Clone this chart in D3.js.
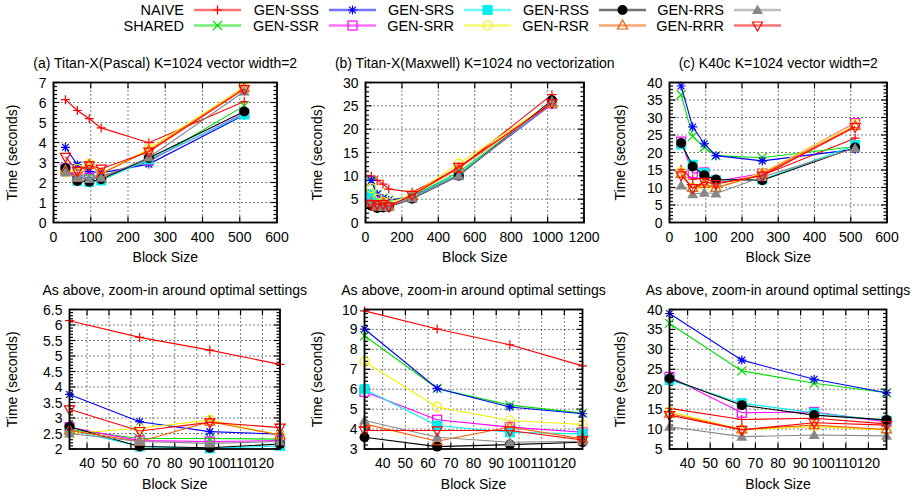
<!DOCTYPE html>
<html><head><meta charset="utf-8">
<script src="https://cdn.jsdelivr.net/npm/d3@7"></script>
<style>
body{margin:0;background:#fff}
text{font-family:"Liberation Sans",Arial,Helvetica,sans-serif;fill:#000}
</style>
</head><body>
<svg id="chart" width="919" height="496"></svg>
<script>
// ---------------- data ----------------
const seriesNames = ["NAIVE","SHARED","GEN-SSS","GEN-SSR","GEN-SRS","GEN-SRR","GEN-RSS","GEN-RSR","GEN-RRS","GEN-RRR"];
const blockSizes = [32, 64, 96, 128, 256, 512];
const blockSizesMaxwell = [32, 64, 96, 128, 256, 512, 1024];
const zoomBlockSizes = [32, 64, 96, 128];

// rows follow seriesNames order; columns follow blockSizes
const pascalTimes = [
  [6.14, 5.60, 5.19, 4.73, 3.99, 6.05],
  [2.63, 2.34, 2.34, 2.32, 3.04, 5.83],
  [3.76, 2.88, 2.56, 2.48, 2.92, 5.38],
  [2.70, 2.27, 2.24, 2.27, 3.10, 5.45],
  [2.62, 2.08, 2.02, 2.10, 3.15, 5.40],
  [2.50, 2.67, 2.93, 2.45, 3.68, 6.78],
  [2.72, 2.08, 2.04, 2.16, 3.22, 5.55],
  [2.60, 2.24, 2.88, 2.45, 3.60, 6.72],
  [2.50, 2.24, 2.18, 2.24, 3.25, 6.55],
  [3.28, 2.58, 2.86, 2.69, 3.54, 6.67]
];
// columns follow blockSizesMaxwell
const maxwellTimes = [
  [9.93, 9.02, 8.23, 7.17, 6.50, 11.6, 27.4],
  [8.68, 6.04, 5.20, 4.80, 5.60, 10.8, 25.6],
  [9.02, 6.04, 5.11, 4.77, 5.50, 10.3, 25.4],
  [5.87, 4.47, 4.10, 3.84, 5.40, 10.2, 25.5],
  [6.00, 4.18, 3.84, 3.76, 5.40, 10.4, 25.6],
  [7.38, 5.11, 4.43, 4.23, 5.90, 12.6, 25.8],
  [3.59, 3.12, 3.22, 3.34, 5.10, 10.0, 26.2],
  [4.26, 3.39, 4.10, 3.51, 5.80, 11.6, 25.5],
  [4.43, 3.59, 3.34, 3.39, 5.20, 10.0, 26.0],
  [3.93, 3.93, 3.93, 3.45, 5.90, 11.9, 25.6]
];
const k40cTimes = [
  [15.2, 12.4, 12.7, 11.3, 13.5, 24.1],
  [36.5, 24.6, 21.5, 19.1, 18.5, 21.7],
  [39.0, 27.3, 22.5, 19.1, 17.6, 20.9],
  [23.1, 14.1, 14.3, 11.8, 14.0, 28.4],
  [22.3, 16.5, 14.1, 12.1, 12.3, 22.1],
  [14.4, 9.8, 10.6, 9.8, 14.2, 28.2],
  [22.7, 16.0, 13.5, 12.3, 12.1, 21.4],
  [13.9, 9.9, 11.0, 9.9, 13.8, 27.6],
  [10.6, 8.1, 8.5, 8.3, 13.0, 21.2],
  [13.5, 9.8, 11.6, 11.0, 13.4, 27.3]
];

const titles = ["(a) Titan-X(Pascal) K=1024 vector width=2",
                "(b) Titan-X(Maxwell) K=1024 no vectorization",
                "(c) K40c K=1024 vector width=2",
                "As above, zoom-in around optimal settings"];
const xLabel = "Block Size";
const yLabel = "Time (seconds)";

// ---------------- styles ----------------
const seriesColors = ["#ff0000","#00e000","#0000ff","#ff00ff","#00eeee","#f2f200","#000000","#ff5a00","#888888","#ff0000"];
const seriesMarkers = ["plus","cross","star","sqOpen","sqFill","circOpen","circFill","triOpen","triFill","triDown"];

const panels = [
  {title: titles[0], xs: blockSizes, rows: pascalTimes, n: 6, xDom:[0,600], xStep:100, yDom:[0,7], yStep:1, yMinor:0.2, box:[53.5,82.5,277,222.5], ylx:12},
  {title: titles[1], xs: blockSizesMaxwell, rows: maxwellTimes, n: 7, xDom:[0,1200], xStep:200, yDom:[0,30], yStep:5, yMinor:1, box:[365.5,82.5,584,222.5], ylx:317},
  {title: titles[2], xs: blockSizes, rows: k40cTimes, n: 6, xDom:[0,600], xStep:100, yDom:[0,40], yStep:5, yMinor:1, box:[669.5,82.5,887,222.5], ylx:620},
  {title: titles[3], xs: zoomBlockSizes, rows: pascalTimes, n: 4, xDom:[32,128], xTickVals:[40,50,60,70,80,90,100,110,120], yDom:[2,6.5], yStep:0.5, yMinor:0.1, box:[69.5,309.5,280,449], ylx:12},
  {title: titles[3], xs: zoomBlockSizes, rows: maxwellTimes, n: 4, xDom:[32,128], xTickVals:[40,50,60,70,80,90,100,110,120], yDom:[3,10], yStep:1, yMinor:0.2, box:[364.5,309.5,582.5,449], ylx:317},
  {title: titles[3], xs: zoomBlockSizes, rows: k40cTimes, n: 4, xDom:[32,128], xTickVals:[40,50,60,70,80,90,100,110,120], yDom:[5,40], yStep:5, yMinor:1, box:[669.5,309.5,886.5,449], ylx:620}
];

const svg = d3.select("#chart");
const FS = 14;
const fmt = d3.format("~g");

function marker(g, type, color, cx, cy) {
  const s = 4.5;
  const sw = 1.2;
  if (type === "plus") {
    g.append("path").attr("d", `M${cx-s},${cy}H${cx+s}M${cx},${cy-s}V${cy+s}`).attr("stroke", color).attr("stroke-width", sw).attr("fill","none");
  } else if (type === "cross") {
    g.append("path").attr("d", `M${cx-s},${cy-s}L${cx+s},${cy+s}M${cx-s},${cy+s}L${cx+s},${cy-s}`).attr("stroke", color).attr("stroke-width", sw).attr("fill","none");
  } else if (type === "star") {
    g.append("path").attr("d", `M${cx-s},${cy}H${cx+s}M${cx},${cy-s}V${cy+s}M${cx-s*0.75},${cy-s*0.75}L${cx+s*0.75},${cy+s*0.75}M${cx-s*0.75},${cy+s*0.75}L${cx+s*0.75},${cy-s*0.75}`).attr("stroke", color).attr("stroke-width", sw).attr("fill","none");
  } else if (type === "sqOpen") {
    g.append("rect").attr("x", cx-s).attr("y", cy-s).attr("width", 2*s).attr("height", 2*s).attr("fill","none").attr("stroke", color).attr("stroke-width", sw);
  } else if (type === "sqFill") {
    g.append("rect").attr("x", cx-5).attr("y", cy-5).attr("width", 10).attr("height", 10).attr("fill", color);
  } else if (type === "circOpen") {
    g.append("circle").attr("cx", cx).attr("cy", cy).attr("r", s).attr("fill","none").attr("stroke", color).attr("stroke-width", sw);
  } else if (type === "circFill") {
    g.append("circle").attr("cx", cx).attr("cy", cy).attr("r", 5).attr("fill", color);
  } else if (type === "triOpen") {
    g.append("path").attr("d", `M${cx},${cy-5.5}L${cx+5},${cy+3.5}L${cx-5},${cy+3.5}Z`).attr("fill","none").attr("stroke", color).attr("stroke-width", sw);
  } else if (type === "triFill") {
    g.append("path").attr("d", `M${cx},${cy-5.5}L${cx+5.5},${cy+4}L${cx-5.5},${cy+4}Z`).attr("fill", color);
  } else if (type === "triDown") {
    g.append("path").attr("d", `M${cx},${cy+5.5}L${cx+5},${cy-3.5}L${cx-5},${cy-3.5}Z`).attr("fill","none").attr("stroke", color).attr("stroke-width", sw);
  }
}

panels.forEach(p => {
  const [x0, y0, x1, y1] = p.box;
  const x = d3.scaleLinear().domain(p.xDom).range([x0, x1]);
  const y = d3.scaleLinear().domain(p.yDom).range([y1, y0]);
  const g = svg.append("g");
  const xTicks = p.xTickVals || d3.range(p.xDom[0], p.xDom[1] + 1e-9, p.xStep);
  const yTicks = d3.range(p.yDom[0], p.yDom[1] + 1e-9, p.yStep).map(v => +v.toFixed(4));
  const yMinor = d3.range(p.yDom[0], p.yDom[1] + 1e-9, p.yMinor).map(v => +v.toFixed(4));

  // grid (dotted)
  const grid = g.append("g").attr("stroke", "#000").attr("stroke-width", 1).attr("stroke-dasharray", "1,3");
  xTicks.forEach(t => { if (t > p.xDom[0] && t < p.xDom[1]) grid.append("line").attr("x1", x(t)).attr("x2", x(t)).attr("y1", y0).attr("y2", y1); });
  yTicks.forEach(t => { if (t > p.yDom[0] && t < p.yDom[1]) grid.append("line").attr("x1", x0).attr("x2", x1).attr("y1", y(t)).attr("y2", y(t)); });

  // ticks (inside, mirrored)
  const tk = g.append("g").attr("stroke", "#000").attr("stroke-width", 1.2);
  xTicks.forEach(t => {
    tk.append("line").attr("x1", x(t)).attr("x2", x(t)).attr("y1", y1).attr("y2", y1 - 6);
    tk.append("line").attr("x1", x(t)).attr("x2", x(t)).attr("y1", y0).attr("y2", y0 + 6);
  });
  yMinor.forEach(t => {
    const major = yTicks.some(v => Math.abs(v - t) < 1e-6);
    const L = major ? 6 : 3.5;
    tk.append("line").attr("x1", x0).attr("x2", x0 + L).attr("y1", y(t)).attr("y2", y(t));
    tk.append("line").attr("x1", x1).attr("x2", x1 - L).attr("y1", y(t)).attr("y2", y(t));
  });

  // tick labels
  xTicks.forEach(t => {
    g.append("text").attr("x", x(t)).attr("y", y1 + 19).attr("text-anchor", "middle").attr("font-size", FS).text(fmt(t));
  });
  yTicks.forEach(t => {
    g.append("text").attr("x", x0 - 7).attr("y", y(t)).attr("dy", "0.36em").attr("text-anchor", "end").attr("font-size", FS).text(fmt(t));
  });

  // series
  const line = d3.line().x(d => x(d[0])).y(d => y(d[1]));
  p.rows.forEach((row, i) => {
    const pts = p.xs.map((bs, j) => [bs, row[j]]).slice(0, p.n);
    const sg = g.append("g");
    sg.append("path").attr("d", line(pts)).attr("fill", "none").attr("stroke", seriesColors[i]).attr("stroke-width", 1.1);
    pts.forEach(d => marker(sg, seriesMarkers[i], seriesColors[i], x(d[0]), y(d[1])));
  });

  // frame
  g.append("rect").attr("x", x0).attr("y", y0).attr("width", x1 - x0).attr("height", y1 - y0)
    .attr("fill", "none").attr("stroke", "#000").attr("stroke-width", 1.8);

  // titles and axis labels
  g.append("text").attr("x", (x0 + x1) / 2).attr("y", y0 - 15).attr("text-anchor", "middle").attr("font-size", FS).text(p.title);
  g.append("text").attr("x", (x0 + x1) / 2).attr("y", y1 + 39.5).attr("text-anchor", "middle").attr("font-size", FS).text(xLabel);
  g.append("text").attr("transform", `translate(${p.ylx},${(y0 + y1) / 2}) rotate(-90)`).attr("dy", "0.36em")
    .attr("text-anchor", "middle").attr("font-size", FS).text(yLabel);
});

// ---------------- legend ----------------
const leg = svg.append("g");
seriesNames.forEach((name, i) => {
  const col = Math.floor(i / 2), row = i % 2;
  const lx = 194 + col * 135, ly = 10 + row * 15.5;
  leg.append("text").attr("x", lx - 10).attr("y", ly).attr("dy", "0.36em").attr("text-anchor", "end").attr("font-size", 14.5).text(name);
  leg.append("line").attr("x1", lx).attr("x2", lx + 47).attr("y1", ly).attr("y2", ly)
    .attr("stroke", seriesColors[i]).attr("stroke-width", 2.6).attr("stroke-opacity", 0.55);
  marker(leg, seriesMarkers[i], seriesColors[i], lx + 23.5, ly);
});
</script>
</body></html>
